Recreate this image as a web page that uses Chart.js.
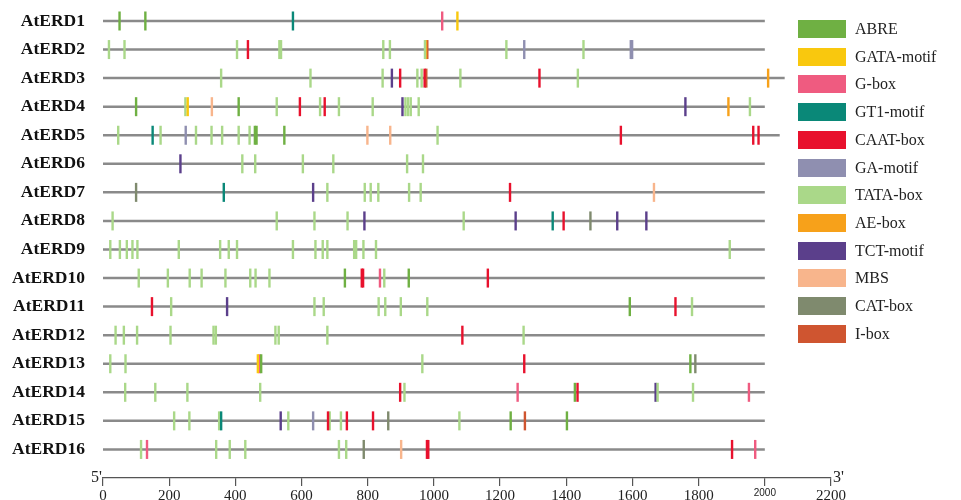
<!DOCTYPE html>
<html>
<head>
<meta charset="utf-8">
<script src="https://cdn.jsdelivr.net/npm/chart.js@4/dist/chart.umd.min.js"></script>
<style>
  html, body { margin: 0; padding: 0; background: #fff; }
  #wrap { position: relative; width: 961px; height: 500px; overflow: hidden; }
  #legend { position: absolute; left: 0; top: 0; width: 961px; height: 500px; pointer-events: none; }
  .lg-item { position: absolute; left: 798px; height: 18px; }
  .lg-sw { position: absolute; left: 0; top: 0; width: 48px; height: 18px; }
  .lg-tx { position: absolute; left: 57px; top: -1px; white-space: nowrap; font-family: "Liberation Serif", serif; font-size: 16px; line-height: 20px; color: #222; }
</style>
</head>
<body>
<div id="wrap">
  <canvas id="c" width="961" height="500"></canvas>
  <div id="legend"></div>
</div>
<script>
// ---- categories ----
const genes = ['AtERD1','AtERD2','AtERD3','AtERD4','AtERD5','AtERD6','AtERD7','AtERD8',
               'AtERD9','AtERD10','AtERD11','AtERD12','AtERD13','AtERD14','AtERD15','AtERD16'];
const geneLengths = [2000,2000,2060,2000,2045,2000,2000,2000,2000,2000,2000,2000,2000,2000,2000,2000];

const elementNames  = ['ABRE','GATA-motif','G-box','GT1-motif','CAAT-box','GA-motif','TATA-box','AE-box','TCT-motif','MBS','CAT-box','I-box'];
const elementColors = ['#6fb043','#f9c80e','#ef5b80','#0a8878','#e8112d','#8f8fb0','#aad889','#f7a11a','#5b3f8b','#f8b58c','#7f8a6e','#cf5530'];

// ---- x-axis ticks ----
const xTicks = [0,200,400,600,800,1000,1200,1400,1600,1800,2000,2200];

// ---- element positions: [gene number (1-16), position (bp)] ----
const ABRE = [[1,50],[1,128],[4,100],[4,410],[5,459],[5,464],[5,548],[10,731],[10,924],
              [11,1592],[13,478],[13,1775],[14,1426],[15,1232],[15,1402]];
const GATA = [[1,1071],[4,256],[13,468]];
const GBOX = [[1,1025],[10,837],[13,473],[14,1253],[14,1952],[16,133],[16,1971]];
const GT1  = [[1,574],[5,150],[7,365],[8,1359],[15,357]];
const CAAT = [[2,438],[3,898],[3,972],[3,1319],[4,595],[4,670],[5,1565],[5,1965],[5,1981],
              [7,1230],[8,1392],[10,782],[10,786],[10,1163],[11,148],[11,1730],[12,1086],
              [13,1273],[14,898],[14,1434],[15,680],[15,737],[15,816],[16,979],[16,983],[16,1901]];
const GA   = [[2,1273],[2,1595],[2,1599],[5,250],[15,635]];
const TATA = [[2,18],[2,65],[2,405],[2,533],[2,538],[2,847],[2,867],[2,973],[2,1219],[2,1452],
              [3,357],[3,627],[3,845],[3,950],[3,963],[3,1080],[3,1435],
              [4,249],[4,525],[4,656],[4,713],[4,815],[4,914],[4,922],[4,930],[4,954],[4,1955],
              [5,46],[5,174],[5,281],[5,328],[5,360],[5,410],[5,443],[5,1011],
              [6,421],[6,460],[6,604],[6,696],[6,919],[6,967],
              [7,678],[7,791],[7,809],[7,832],[7,925],[7,960],
              [8,29],[8,525],[8,639],[8,739],[8,1090],
              [9,22],[9,51],[9,72],[9,89],[9,104],[9,229],[9,354],[9,380],[9,405],[9,574],[9,642],
              [9,664],[9,678],[9,759],[9,765],[9,787],[9,825],[9,1894],
              [10,108],[10,196],[10,262],[10,298],[10,370],[10,445],[10,461],[10,503],[10,850],
              [11,206],[11,639],[11,667],[11,833],[11,853],[11,900],[11,980],[11,1780],
              [12,38],[12,63],[12,103],[12,204],[12,334],[12,341],[12,521],[12,531],[12,678],[12,1271],
              [13,22],[13,68],[13,965],
              [14,67],[14,158],[14,255],[14,475],[14,911],[14,1676],[14,1783],
              [15,215],[15,261],[15,351],[15,560],[15,685],[15,719],[15,1077],
              [16,115],[16,342],[16,383],[16,430],[16,713],[16,735]];
const AEBOX = [[2,976],[3,2010],[4,1890]];
const TCT  = [[3,873],[4,905],[4,1760],[6,234],[7,635],[8,790],[8,1247],[8,1554],[8,1642],
              [11,375],[14,1670],[15,537]];
const MBS  = [[4,329],[5,799],[5,868],[7,1665],[16,901]];
const CAT  = [[7,100],[8,1473],[13,1790],[15,862],[16,788]];
const IBOX = [[2,980],[3,977],[15,1275]];

const elementData = [ABRE, GATA, GBOX, GT1, CAAT, GA, TATA, AEBOX, TCT, MBS, CAT, IBOX];

// ---- datasets ----
const datasets = [];
genes.forEach((g, i) => {
  datasets.push({
    type: 'line',
    label: g,
    data: [{x: 0, y: i}, {x: geneLengths[i], y: i}],
    borderColor: '#8a8a8a',
    borderWidth: 2.5,
    pointRadius: 0,
    showLine: true,
    order: 2
  });
});
elementNames.forEach((name, k) => {
  datasets.push({
    type: 'scatter',
    label: name,
    data: elementData[k].map(([gn, pos]) => ({x: pos, y: gn - 1})),
    pointStyle: 'line',
    rotation: 90,
    radius: 9.5,
    borderWidth: 2.4,
    borderColor: elementColors[k],
    backgroundColor: elementColors[k],
    order: 1
  });
});

const SERIF = '"Liberation Serif", "Times New Roman", serif';

const primePlugin = {
  id: 'primes',
  afterDraw(chart) {
    const {ctx, chartArea} = chart;
    const xs = chart.scales.x;
    const yb = chartArea.bottom;
    ctx.save();
    ctx.fillStyle = '#222';
    ctx.font = '16px ' + SERIF;
    ctx.textBaseline = 'alphabetic';
    ctx.textAlign = 'right';
    ctx.fillText("5'", xs.getPixelForValue(0) - 1, yb + 4);
    ctx.textAlign = 'left';
    ctx.fillText("3'", xs.getPixelForValue(2200) + 2, yb + 4);
    ctx.restore();
  }
};

new Chart(document.getElementById('c'), {
  type: 'scatter',
  data: { datasets },
  options: {
    responsive: false,
    animation: false,
    events: [],
    layout: { autoPadding: false, padding: { left: 0, right: 130, top: 0, bottom: 0 } },
    plugins: { legend: { display: false }, tooltip: { enabled: false } },
    scales: {
      x: {
        type: 'linear',
        min: 0, max: 2200,
        afterBuildTicks: s => { s.ticks = xTicks.map(v => ({value: v})); },
        afterFit: s => { s.height = 22; s.paddingLeft = 0; s.paddingRight = 0; },
        grid: { display: true, drawOnChartArea: false, drawTicks: true, tickLength: 8, color: '#555', lineWidth: 1.2 },
        border: { display: true, color: '#555', width: 1.3 },
        ticks: {
          padding: 1,
          maxRotation: 0,
          autoSkip: false,
          color: '#222',
          font: (ctx) => (ctx.tick && ctx.tick.value === 2000)
            ? { family: '"Liberation Sans", Arial, sans-serif', size: 10 }
            : { family: SERIF, size: 15 },
          callback: v => String(v)
        }
      },
      y: {
        type: 'linear',
        reverse: true,
        min: -0.735, max: 16,
        afterBuildTicks: s => { s.ticks = genes.map((g, i) => ({value: i})); },
        afterFit: s => { s.width = 103; s.paddingTop = 0; s.paddingBottom = 0; },
        grid: { display: false, drawTicks: false },
        border: { display: false },
        ticks: {
          padding: 18,
          autoSkip: false,
          color: '#111',
          font: { family: SERIF, size: 17.5, weight: 'bold' },
          callback: v => genes[v] || ''
        }
      }
    }
  },
  plugins: [primePlugin]
});

// ---- HTML legend built from the same arrays ----
const legend = document.getElementById('legend');
elementNames.forEach((name, k) => {
  const item = document.createElement('div');
  item.className = 'lg-item';
  item.style.top = (20 + k * 27.7) + 'px';
  const sw = document.createElement('div');
  sw.className = 'lg-sw';
  sw.style.background = elementColors[k];
  const tx = document.createElement('div');
  tx.className = 'lg-tx';
  tx.textContent = name;
  item.appendChild(sw);
  item.appendChild(tx);
  legend.appendChild(item);
});
</script>
</body>
</html>
